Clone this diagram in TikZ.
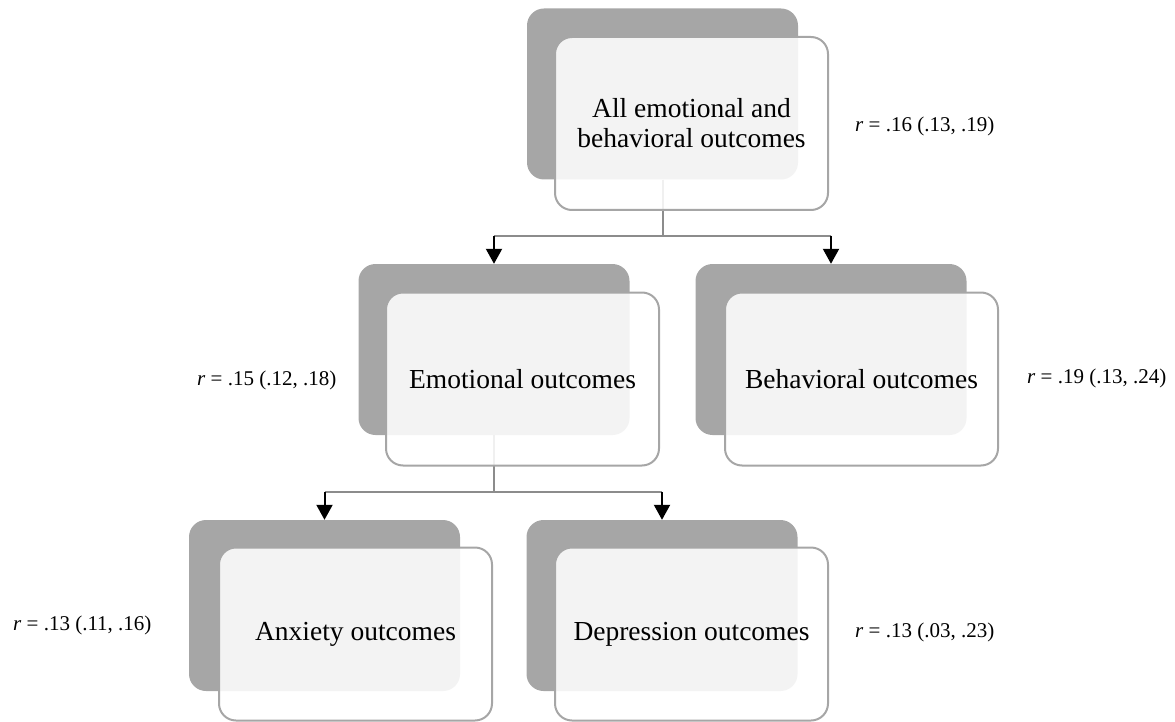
\documentclass[tikz,border=0pt]{standalone}
\usepackage{fontspec}
\setmainfont{Liberation Serif}
\usetikzlibrary{arrows.meta}
\definecolor{backgray}{HTML}{A6A6A6}
\definecolor{linkgray}{HTML}{8C8C8C}

\begin{document}
\begin{tikzpicture}[x=1pt,y=-1pt,
  back/.style={fill=backgray,rounded corners=17pt,minimum width=271pt,minimum height=171pt,inner sep=0pt},
  front/.style={fill=white,fill opacity=0.87,text opacity=1,draw=backgray,line width=2pt,rounded corners=17pt,minimum width=273pt,minimum height=173pt,inner sep=0pt,align=center,font=\fontsize{27.5}{30}\selectfont},
  stat/.style={anchor=base west,inner sep=0pt,font=\fontsize{21}{24}\selectfont},
  link/.style={draw=linkgray,line width=2pt},
  drop/.style={draw=black,line width=2pt,-{Triangle[width=16pt,length=15pt]}}]
\useasboundingbox (0,0) rectangle (1175,722);
% back boxes
\node[back] (allback) at (662.5,94) {};
\node[back] (emoback) at (494,349.5) {};
\node[back] (behback) at (831,349.5) {};
\node[back] (anxback) at (324.5,605.5) {};
\node[back] (depback) at (662,605.5) {};
% first level
\draw[link] (allback.south) -- ++(0,56) coordinate (allbar);
\draw[link] (emoback.north |- allbar) -- (behback.north |- allbar);
\draw[drop] (emoback.north |- allbar) -- (emoback.north);
\draw[drop] (behback.north |- allbar) -- (behback.north);
% second level
\draw[link] (emoback.south) -- ++(0,57) coordinate (emobar);
\draw[link] (anxback.north |- emobar) -- (depback.north |- emobar);
\draw[drop] (anxback.north |- emobar) -- (anxback.north);
\draw[drop] (depback.north |- emobar) -- (depback.north);
% front boxes
\node[front] (all) at (691.5,123.5) {All emotional and\\behavioral outcomes};
\node[front] (emo) at (522.5,379) {Emotional outcomes};
\node[front] (beh) at (861.5,379) {Behavioral outcomes};
\node[front] (anx) at (355.5,634) {Anxiety outcomes};
\node[front] (dep) at (691.5,634) {Depression outcomes};
% effect sizes
\node[stat] (allr) at (855,132) {\textit{r} = .16 (.13, .19)};
\node[stat] (emor) at (197,385) {\textit{r} = .15 (.12, .18)};
\node[stat] (behr) at (1027,383) {\textit{r} = .19 (.13, .24)};
\node[stat] (anxr) at (13,630) {\textit{r} = .13 (.11, .16)};
\node[stat] (depr) at (855,637) {\textit{r} = .13 (.03, .23)};
\end{tikzpicture}
\end{document}
